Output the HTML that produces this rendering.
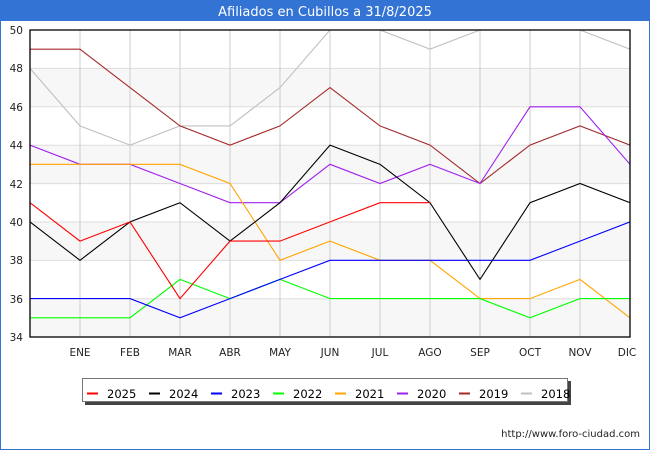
<!DOCTYPE html>
<html><head><meta charset="utf-8"><style>
body{margin:0;width:650px;height:450px;overflow:hidden;background:#fff;}
</style></head><body>
<svg width="650" height="450" xmlns="http://www.w3.org/2000/svg" font-family="DejaVu Sans, Liberation Sans, sans-serif">
<rect x="0.5" y="0.5" width="649" height="449" fill="#fff" stroke="#3373d4"/>
<rect x="0" y="0" width="650" height="21" fill="#3373d4"/>
<text x="325" y="16" text-anchor="middle" font-size="13" fill="#fff">Afiliados en Cubillos a 31/8/2025</text>
<defs><clipPath id="c"><rect x="30" y="30" width="600" height="307"/></clipPath></defs>
<g fill="#f7f7f7">
<rect x="30" y="68.4" width="600" height="38.4"/>
<rect x="30" y="145.2" width="600" height="38.4"/>
<rect x="30" y="222" width="600" height="38.4"/>
<rect x="30" y="298.8" width="600" height="38.2"/>
</g>
<g stroke="#ddd" stroke-width="1">
<line x1="30" x2="630" y1="68.4" y2="68.4"/><line x1="30" x2="630" y1="106.8" y2="106.8"/>
<line x1="30" x2="630" y1="145.2" y2="145.2"/><line x1="30" x2="630" y1="183.6" y2="183.6"/>
<line x1="30" x2="630" y1="222" y2="222"/><line x1="30" x2="630" y1="260.4" y2="260.4"/>
<line x1="30" x2="630" y1="298.8" y2="298.8"/>
</g>
<g stroke="#ccc" stroke-width="1">
<line x1="80" x2="80" y1="30" y2="337"/><line x1="130" x2="130" y1="30" y2="337"/><line x1="180" x2="180" y1="30" y2="337"/><line x1="230" x2="230" y1="30" y2="337"/><line x1="280" x2="280" y1="30" y2="337"/><line x1="330" x2="330" y1="30" y2="337"/><line x1="380" x2="380" y1="30" y2="337"/><line x1="430" x2="430" y1="30" y2="337"/><line x1="480" x2="480" y1="30" y2="337"/><line x1="530" x2="530" y1="30" y2="337"/><line x1="580" x2="580" y1="30" y2="337"/>
</g>
<g fill="none" stroke-width="1.1" clip-path="url(#c)">
<polyline stroke="#c0c0c0" points="30,68.4 80,125.9 130,145.1 180,125.9 230,125.9 280,87.6 330,30 380,30 430,49.2 480,30 530,10.8 580,30 630,49.2"/>
<polyline stroke="#a52a2a" points="30,49.2 80,49.2 130,87.6 180,125.9 230,145.1 280,125.9 330,87.6 380,125.9 430,145.1 480,183.5 530,145.1 580,125.9 630,145.1"/>
<polyline stroke="#a020f0" points="30,145.1 80,164.3 130,164.3 180,183.5 230,202.7 280,202.7 330,164.3 380,183.5 430,164.3 480,183.5 530,106.8 580,106.8 630,164.3"/>
<polyline stroke="#ffa500" points="30,164.3 80,164.3 130,164.3 180,164.3 230,183.5 280,260.3 330,241.1 380,260.3 430,260.3 480,298.6 530,298.6 580,279.4 630,317.8"/>
<polyline stroke="#0f0" points="30,317.8 80,317.8 130,317.8 180,279.4 230,298.6 280,279.4 330,298.6 380,298.6 430,298.6 480,298.6 530,317.8 580,298.6 630,298.6"/>
<polyline stroke="#00f" points="30,298.6 80,298.6 130,298.6 180,317.8 230,298.6 280,279.4 330,260.3 380,260.3 430,260.3 480,260.3 530,260.3 580,241.1 630,221.9"/>
<polyline stroke="#000" points="30,221.9 80,260.3 130,221.9 180,202.7 230,241.1 280,202.7 330,145.1 380,164.3 430,202.7 480,279.4 530,202.7 580,183.5 630,202.7"/>
<polyline stroke="#f00" points="30,202.7 80,241.1 130,221.9 180,298.6 230,241.1 280,241.1 330,221.9 380,202.7 430,202.7"/>
</g>
<rect x="30" y="30" width="600" height="307" fill="none" stroke="#000" stroke-width="1.3"/>
<g font-size="10.5" fill="#222" text-anchor="end">
<text x="23" y="34">50</text><text x="23" y="72">48</text><text x="23" y="111">46</text><text x="23" y="149">44</text><text x="23" y="188">42</text><text x="23" y="226">40</text><text x="23" y="264">38</text><text x="23" y="303">36</text><text x="23" y="341">34</text>
</g>
<g font-size="10.5" fill="#222" text-anchor="middle">
<text x="80" y="356">ENE</text><text x="130" y="356">FEB</text><text x="180" y="356">MAR</text><text x="230" y="356">ABR</text><text x="280" y="356">MAY</text><text x="330" y="356">JUN</text><text x="380" y="356">JUL</text><text x="430" y="356">AGO</text><text x="480" y="356">SEP</text><text x="530" y="356">OCT</text><text x="580" y="356">NOV</text><text x="627" y="356">DIC</text>
</g>
<rect x="85" y="381" width="486" height="24" fill="#444"/>
<rect x="82.5" y="378.5" width="485" height="23" fill="#fff" stroke="#777"/>
<g font-size="11.5" fill="#000" stroke-width="2">
<line x1="87" x2="98" y1="393.5" y2="393.5" stroke="#f00"/><text x="107" y="398">2025</text>
<line x1="149" x2="160" y1="393.5" y2="393.5" stroke="#000"/><text x="169" y="398">2024</text>
<line x1="211" x2="222" y1="393.5" y2="393.5" stroke="#00f"/><text x="231" y="398">2023</text>
<line x1="273" x2="284" y1="393.5" y2="393.5" stroke="#0f0"/><text x="293" y="398">2022</text>
<line x1="335" x2="346" y1="393.5" y2="393.5" stroke="#ffa500"/><text x="355" y="398">2021</text>
<line x1="397" x2="408" y1="393.5" y2="393.5" stroke="#a020f0"/><text x="417" y="398">2020</text>
<line x1="459" x2="470" y1="393.5" y2="393.5" stroke="#a52a2a"/><text x="479" y="398">2019</text>
<line x1="521" x2="532" y1="393.5" y2="393.5" stroke="#c0c0c0"/><text x="541" y="398">2018</text>
</g>
<text x="640" y="437" text-anchor="end" font-size="10" fill="#222">http://www.foro-ciudad.com</text>
</svg>
</body></html>
